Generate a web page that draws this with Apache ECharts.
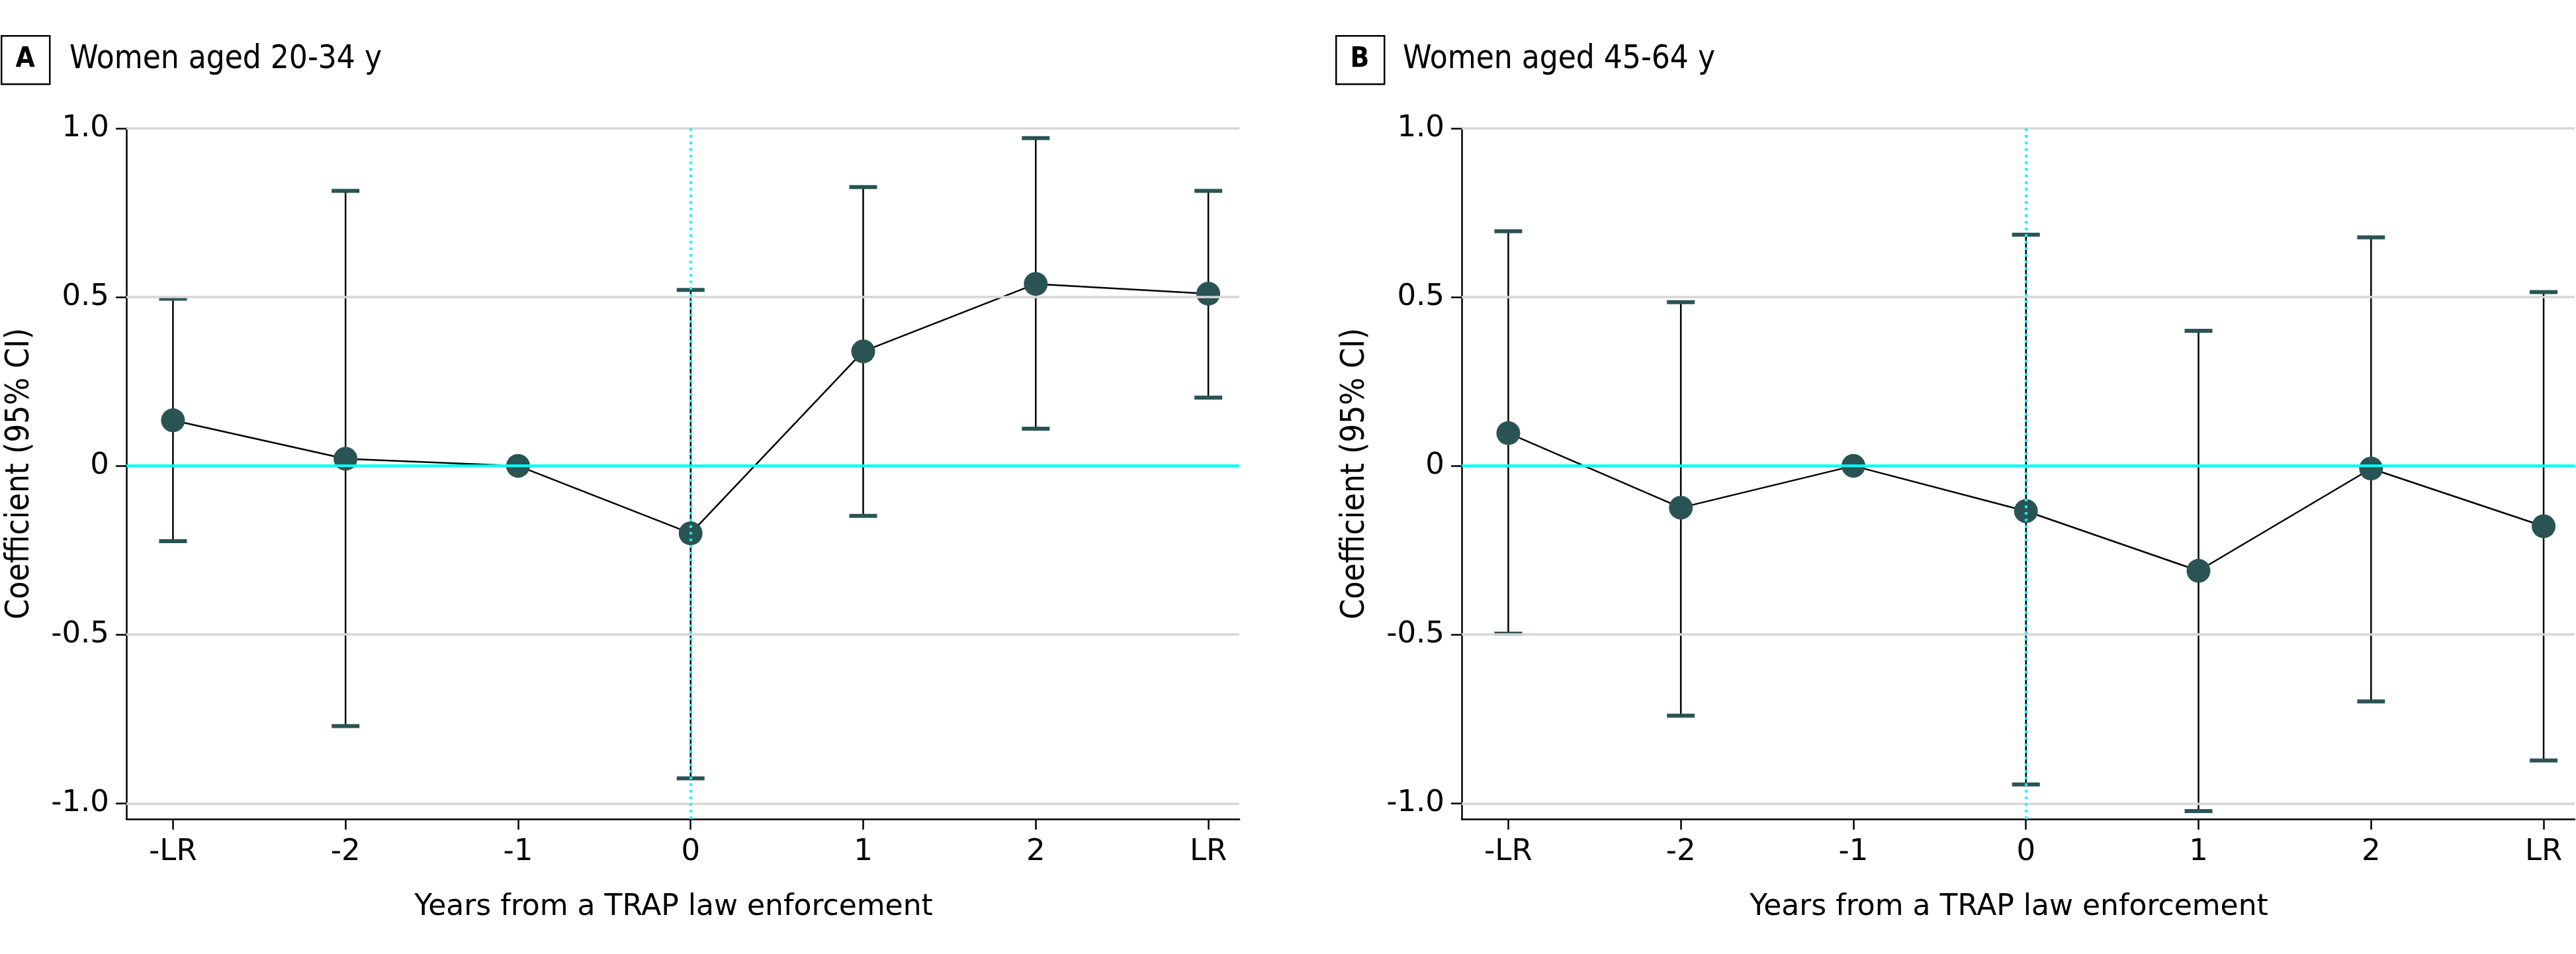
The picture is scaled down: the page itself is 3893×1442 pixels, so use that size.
<!DOCTYPE html>
<html>
<head>
<meta charset="utf-8">
<script src="https://cdn.jsdelivr.net/npm/echarts@6/dist/echarts.min.js"></script>
<style>
html,body{margin:0;padding:0;background:#fff;}
#chart{width:3893px;height:1442px;}
</style>
</head>
<body>
<div id="chart"></div>
<script>
// ---- data ----
const xLabels = ['-LR', '-2', '-1', '0', '1', '2', 'LR'];
const xPositions = [0, 1, 2, 3, 4, 5, 6];
const yTicks = [-1, -0.5, 0, 0.5, 1];
const yTickLabels = ['-1.0', '-0.5', '0', '0.5', '1.0'];

const coefA = [0.135, 0.021, 0, -0.200, 0.339, 0.539, 0.510];
const lowA  = [-0.223, -0.771, null, -0.926, -0.148, 0.110, 0.202];
const highA = [0.495, 0.815, null, 0.521, 0.826, 0.971, 0.815];

const coefB = [0.097, -0.124, 0, -0.134, -0.311, -0.008, -0.179];
const lowB  = [-0.497, -0.740, null, -0.944, -1.023, -0.698, -0.873];
const highB = [0.695, 0.485, null, 0.685, 0.400, 0.677, 0.515];

const panelTitles = ['Women aged 20-34 y', 'Women aged 45-64 y'];
const panelLetters = ['A', 'B'];
const xTitle = 'Years from a TRAP law enforcement';
const yTitle = 'Coefficient (95% CI)';
const eventIndex = 3; // position of year 0

// ---- style ----
const TEAL = '#2a5454';
const CYAN = '#00ffff';
const GRID = '#d6d6d6';
const FONT = 'DejaVu Sans';
const COND = "'DejaVu Sans Condensed', 'Liberation Sans Narrow', 'DejaVu Sans'";

const chart = echarts.init(document.getElementById('chart'), null, {renderer: 'canvas'});

function renderErr(params, api) {
  const x = api.value(0), lo = api.value(1), hi = api.value(2);
  const pLo = api.coord([x, lo]);
  const pHi = api.coord([x, hi]);
  const cw = 21;
  return {
    type: 'group',
    children: [
      {type: 'line', shape: {x1: pLo[0], y1: pLo[1], x2: pHi[0], y2: pHi[1]},
       style: {stroke: '#000', lineWidth: 2.5}},
      {type: 'line', shape: {x1: pLo[0] - cw, y1: pLo[1], x2: pLo[0] + cw, y2: pLo[1]},
       style: {stroke: TEAL, lineWidth: 6}},
      {type: 'line', shape: {x1: pHi[0] - cw, y1: pHi[1], x2: pHi[0] + cw, y2: pHi[1]},
       style: {stroke: TEAL, lineWidth: 6}}
    ]
  };
}

const panels = [
  {coef: coefA, low: lowA, high: highA, left: 191, width: 1682},
  {coef: coefB, low: lowB, high: highB, left: 2209, width: 1682}
];

const grids = [], xAxes = [], yAxes = [], series = [], graphics = [];
const boxLeft = [1, 2018];
const textLeft = [105, 2120];

panels.forEach((p, k) => {
  grids.push({left: p.left, top: 194, width: p.width, height: 1044, containLabel: false});
  xAxes.push({
    gridIndex: k, type: 'value', min: -0.27, max: 6.18,
    axisLine: {show: true, onZero: false, lineStyle: {color: '#000', width: 2.5}},
    axisTick: {show: true, customValues: xPositions, length: 16, lineStyle: {color: '#000', width: 2.5}},
    axisLabel: {customValues: xPositions, margin: 28, fontSize: 45, color: '#000', fontFamily: FONT,
      formatter: v => xLabels[Math.round(v)]},
    splitLine: {show: false},
    name: xTitle, nameLocation: 'middle', nameGap: 112,
    nameTextStyle: {fontSize: 44, color: '#000', fontFamily: FONT, padding: [0, 28, 0, 0]}
  });
  yAxes.push({
    gridIndex: k, type: 'value', min: -1.0465, max: 1.0,
    axisLine: {show: true, onZero: false, lineStyle: {color: '#000', width: 2.5}},
    axisTick: {show: true, customValues: yTicks, length: 16, lineStyle: {color: '#000', width: 2.5}},
    axisLabel: {customValues: yTicks, margin: 26, fontSize: 45, color: '#000', fontFamily: FONT,
      formatter: v => yTickLabels[yTicks.findIndex(t => Math.abs(t - v) < 1e-6)]},
    splitLine: {show: false},
    name: yTitle, nameLocation: 'middle', nameGap: 136,
    nameTextStyle: {fontSize: 49, color: '#000', fontFamily: COND}
  });

  // gridlines
  series.push({
    type: 'line', xAxisIndex: k, yAxisIndex: k, data: [], z: 1, silent: true,
    markLine: {
      silent: true, symbol: ['none', 'none'], label: {show: false}, animation: false,
      lineStyle: {color: GRID, width: 3.5, type: 'solid'},
      data: yTicks.filter(t => t !== 0).map(t => ({yAxis: t}))
    }
  });
  // reference lines
  series.push({
    type: 'line', xAxisIndex: k, yAxisIndex: k, data: [], z: 2, silent: true,
    markLine: {
      silent: true, symbol: ['none', 'none'], label: {show: false}, animation: false,
      data: [
        {yAxis: 0, lineStyle: {color: CYAN, width: 4, type: 'solid'}},
        {xAxis: eventIndex, lineStyle: {color: CYAN, width: 4, type: [4, 6]}}
      ]
    }
  });
  // error bars
  const errData = [];
  p.low.forEach((lo, i) => { if (lo !== null) errData.push([xPositions[i], lo, p.high[i]]); });
  series.push({
    type: 'custom', xAxisIndex: k, yAxisIndex: k, z: 3, silent: true,
    renderItem: renderErr, encode: {x: 0, y: [1, 2]}, data: errData
  });
  // coefficients
  series.push({
    type: 'line', xAxisIndex: k, yAxisIndex: k, z: 4, silent: true,
    data: p.coef.map((c, i) => [xPositions[i], c]),
    symbol: 'circle', symbolSize: 36,
    itemStyle: {color: TEAL},
    lineStyle: {color: '#000', width: 2.5}
  });

  graphics.push({
    type: 'rect', left: boxLeft[k], top: 53,
    shape: {width: 73, height: 73},
    style: {fill: '#fff', stroke: '#000', lineWidth: 2.5}
  });
  graphics.push({
    type: 'text', x: boxLeft[k] + 37, y: 90,
    style: {text: panelLetters[k], fontSize: 42, fontWeight: 'bold', fontFamily: COND,
      fill: '#000', align: 'center', verticalAlign: 'middle'}
  });
  graphics.push({
    type: 'text', x: textLeft[k], y: 90,
    style: {text: panelTitles[k], fontSize: 49, fontFamily: COND,
      fill: '#000', align: 'left', verticalAlign: 'middle'}
  });
});

chart.setOption({
  animation: false,
  backgroundColor: '#fff',
  grid: grids,
  xAxis: xAxes,
  yAxis: yAxes,
  series: series,
  graphic: graphics
});
</script>
</body>
</html>
